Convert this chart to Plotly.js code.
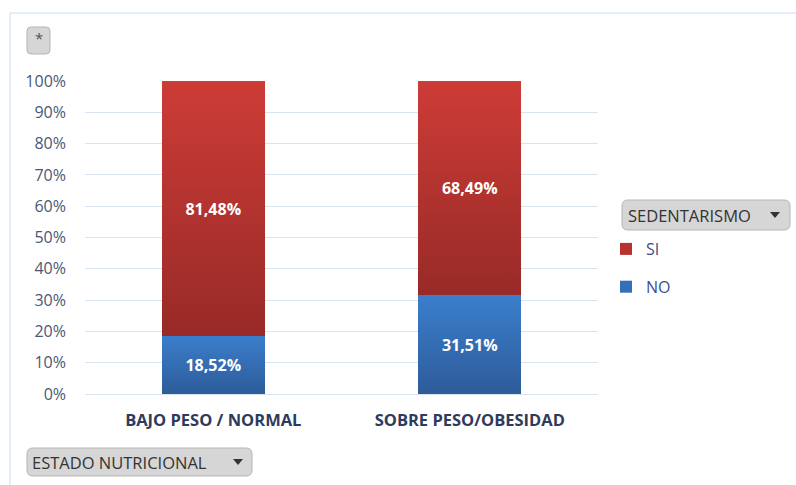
<!DOCTYPE html>
<html><head><meta charset="utf-8">
<script src="https://cdn.plot.ly/plotly-3.0.1.min.js"></script>
<style>body{margin:0;padding:0;background:#fff}#chart{width:796px;height:485px}</style>
</head><body><div id="chart"></div>
<script>
var categories = ["BAJO PESO / NORMAL", "SOBRE PESO/OBESIDAD"];
var noValues = [0.1852, 0.3151];
var siValues = [0.8148, 0.6849];
var noLabels = ["18,52%", "31,51%"];
var siLabels = ["81,48%", "68,49%"];
var yTickVals = [0,0.1,0.2,0.3,0.4,0.5,0.6,0.7,0.8,0.9,1];
var yTickText = ["0%","10%","20%","30%","40%","50%","60%","70%","80%","90%","100%"];

var W=796,H=485,L=85,R=198,T=81,B=91;
var pw=W-L-R, ph=H-T-B;
function px(x){return (x-L)/pw;}
function py(y){return (H-B-y)/ph;}
function rr(x0,y0,x1,y1,r){
  return 'M'+px(x0+r)+','+py(y0)+' L'+px(x1-r)+','+py(y0)+' Q'+px(x1)+','+py(y0)+' '+px(x1)+','+py(y0+r)+
   ' L'+px(x1)+','+py(y1-r)+' Q'+px(x1)+','+py(y1)+' '+px(x1-r)+','+py(y1)+
   ' L'+px(x0+r)+','+py(y1)+' Q'+px(x0)+','+py(y1)+' '+px(x0)+','+py(y1-r)+
   ' L'+px(x0)+','+py(y0+r)+' Q'+px(x0)+','+py(y0)+' '+px(x0+r)+','+py(y0)+' Z';
}
function tri(cx,cy){
  return 'M'+px(cx-5)+','+py(cy-3)+' L'+px(cx+5)+','+py(cy-3)+' L'+px(cx)+','+py(cy+3)+' Z';
}
var F="'Open Sans', sans-serif";
var traces=[
 {type:'bar',name:'NO',x:categories,y:noValues,text:noLabels,textposition:'inside',insidetextanchor:'middle',
  textfont:{color:'#fff',size:16,family:F,weight:'bold'},marker:{color:'#3470BA'},width:0.4,legendgroup:'no',legendrank:2},
 {type:'bar',name:'SI',x:categories,y:siValues,text:siLabels,textposition:'inside',insidetextanchor:'middle',
  textfont:{color:'#fff',size:16,family:F,weight:'bold'},marker:{color:'#B83330'},width:0.4,legendgroup:'si',legendrank:1}
];
var btnFill='#d6d6d6', btnLine='#b5b5b5';
var layout={
 width:W,height:H,margin:{l:L,r:R,t:T,b:B},barmode:'stack',
 paper_bgcolor:'#fff',plot_bgcolor:'#fff',showlegend:true,
 font:{family:F,color:'#44546A'},
 xaxis:{tickfont:{size:16.5,color:'#2F3B5C',family:F,weight:'bold'},showgrid:false,showline:false,ticks:'',ticklen:0,
   tickangle:0,automargin:false,ticklabelstandoff:14},
 yaxis:{range:[0,1],tickvals:yTickVals,ticktext:yTickText,tickfont:{size:16,color:'#4A5875',family:F},
   gridcolor:'#D9E4F2',gridwidth:1,zeroline:true,zerolinecolor:'#D9E4F2',zerolinewidth:1,showline:false,
   ticks:'',automargin:false,fixedrange:true,ticklabelstandoff:18},
 legend:{x:px(606),y:py(232),xanchor:'left',yanchor:'top',traceorder:'grouped',tracegroupgap:14,
   font:{size:16,color:'#3B4D8F',family:F},bgcolor:'rgba(0,0,0,0)',itemwidth:30},
 shapes:[
  {type:'rect',xref:'paper',yref:'paper',x0:px(10),x1:px(800),y0:py(13),y1:py(490),line:{color:'#C9DAF0',width:1},fillcolor:'rgba(0,0,0,0)',layer:'below'},
  {type:'path',xref:'paper',yref:'paper',path:rr(27,27,50,54,4),fillcolor:btnFill,line:{color:btnLine,width:1}},
  {type:'path',xref:'paper',yref:'paper',path:rr(622,200,790,230,6),fillcolor:btnFill,line:{color:btnLine,width:1}},
  {type:'path',xref:'paper',yref:'paper',path:tri(775,215),fillcolor:'#333',line:{width:0}},
  {type:'path',xref:'paper',yref:'paper',path:rr(27,448,252,476,6),fillcolor:btnFill,line:{color:btnLine,width:1}},
  {type:'path',xref:'paper',yref:'paper',path:tri(238,462),fillcolor:'#333',line:{width:0}}
 ],
 annotations:[
  {xref:'paper',yref:'paper',x:px(38.5),y:py(38),text:'*',showarrow:false,font:{size:15,color:'#555',family:F},xanchor:'center',yanchor:'middle'},
  {xref:'paper',yref:'paper',x:px(626),y:py(215),text:'SEDENTARISMO',showarrow:false,font:{size:16.5,color:'#333',family:F},xanchor:'left',yanchor:'middle'},
  {xref:'paper',yref:'paper',x:px(30),y:py(462),text:'ESTADO NUTRICIONAL',showarrow:false,font:{size:16.5,color:'#333',family:F},xanchor:'left',yanchor:'middle'}
 ]
};
Plotly.newPlot('chart',traces,layout,{staticPlot:true,displayModeBar:false}).then(function(gd){
  var svg=gd.querySelector('svg.main-svg');
  var ns='http://www.w3.org/2000/svg';
  var defs=svg.querySelector('defs')||svg.insertBefore(document.createElementNS(ns,'defs'),svg.firstChild);
  function grad(id,c1,c2){
    var g=document.createElementNS(ns,'linearGradient');g.setAttribute('id',id);
    g.setAttribute('x1','0');g.setAttribute('y1','0');g.setAttribute('x2','0');g.setAttribute('y2','1');
    [[0,c1],[1,c2]].forEach(function(s){var st=document.createElementNS(ns,'stop');st.setAttribute('offset',s[0]);st.setAttribute('stop-color',s[1]);g.appendChild(st);});
    defs.appendChild(g);
  }
  grad('gNO','#3B7ECC','#2D5C99');grad('gSI','#CD3C37','#982A27');
  var tr=gd.querySelectorAll('.barlayer .trace');
  tr.forEach(function(t,i){
    t.querySelectorAll('.point path').forEach(function(p){p.style.fill='url(#'+(i===0?'gNO':'gSI')+')';});
  });
});
</script></body></html>
